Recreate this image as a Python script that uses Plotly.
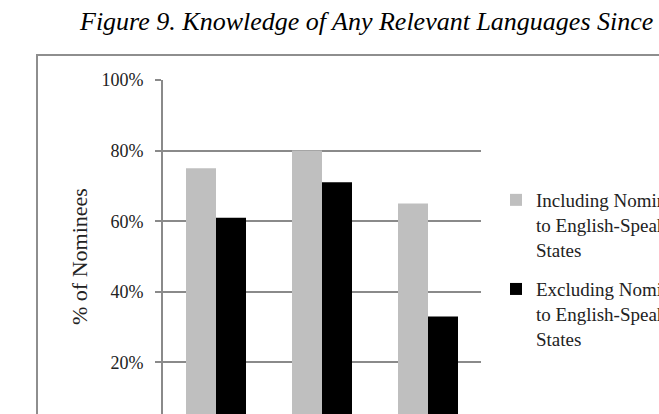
import plotly.graph_objects as go

# ---- data ----
categories = ["Group A", "Group B", "Group C"]
series_names = [
    "Including Nominees<br>to English-Speaking<br>States",
    "Excluding Nominees<br>to English-Speaking<br>States",
]
including_vals = [75, 80, 65]
excluding_vals = [61, 71, 33]
y_tick_vals = [0, 20, 40, 60, 80, 100]
y_tick_text = ["0%", "20%", "40%", "60%", "80%", "100%"]
title_text = "Figure 9. Knowledge of Any Relevant Languages Since"
y_title = "% of Nominees"

SERIF = "Liberation Serif, Times New Roman, serif"
W, H = 659, 414
L, R, T, B = 163, 178, 80, 0  # plot area x=163..481, y=80..414
plot_h = H - T - B
plot_w = W - L - R
# 100% at y=80, 0% at y=433 (below the visible frame)
y_low = (433 - 414) / (433 - 80) * 100

fig = go.Figure()
fig.add_trace(go.Bar(
    x=categories, y=including_vals, name=series_names[0],
    marker=dict(color="#bfbfbf", line=dict(width=0)),
    legendgroup="a",
))
fig.add_trace(go.Bar(
    x=categories, y=excluding_vals, name=series_names[1],
    marker=dict(color="#000000", line=dict(width=0)),
    legendgroup="b",
))

# outer chart box (paper coords)
bx0 = (37 - L) / plot_w
by1 = (H - 55 - B) / plot_h
fig.add_shape(type="rect", xref="paper", yref="paper",
              x0=bx0, x1=3, y0=-2, y1=by1,
              line=dict(color="#8e8e8e", width=2), fillcolor="rgba(0,0,0,0)",
              layer="below")

# y-axis title centred on the full (partly hidden) axis height
fig.add_annotation(
    text=y_title, textangle=-90, showarrow=False,
    xref="paper", yref="paper",
    x=(79 - L) / plot_w, y=(H - 257 - B) / plot_h,
    xanchor="center", yanchor="middle",
    font=dict(family=SERIF, size=22, color="#222222"),
)

fig.update_layout(
    template="none",
    width=W, height=H,
    margin=dict(l=L, r=R, t=T, b=B, pad=0),
    paper_bgcolor="white", plot_bgcolor="white",
    barmode="group", bargap=0.434, bargroupgap=0,
    font=dict(family=SERIF, color="#222222"),
    title=dict(text=title_text, x=80 / W, xanchor="left", xref="container",
               y=1 - 21 / H, yanchor="middle", yref="container",
               font=dict(family=SERIF, size=26, color="#000000", style="italic")),
    showlegend=True,
    legend=dict(
        x=(536 - 40) / W, xanchor="left", xref="container",
        y=1 - 181 / H, yanchor="top", yref="container",
        font=dict(family=SERIF, size=19, color="#222222"),
        valign="top", traceorder="grouped", tracegroupgap=12,
        bgcolor="rgba(0,0,0,0)", borderwidth=0,
    ),
    xaxis=dict(showgrid=False, showline=False, ticks="", showticklabels=False,
               automargin=False, zeroline=False),
    yaxis=dict(
        range=[y_low, 100], tickvals=y_tick_vals, ticktext=y_tick_text,
        showgrid=True, gridcolor="#8a8a8a", gridwidth=1.6,
        showline=True, linecolor="#8a8a8a", linewidth=2,
        ticks="outside", ticklen=6, tickcolor="#8a8a8a", tickwidth=1.6,
        tickfont=dict(family=SERIF, size=18, color="#222222"),
        ticklabelstandoff=8,
        zeroline=False,
        automargin=False,
    ),
)

fig.write_html("out.html")
